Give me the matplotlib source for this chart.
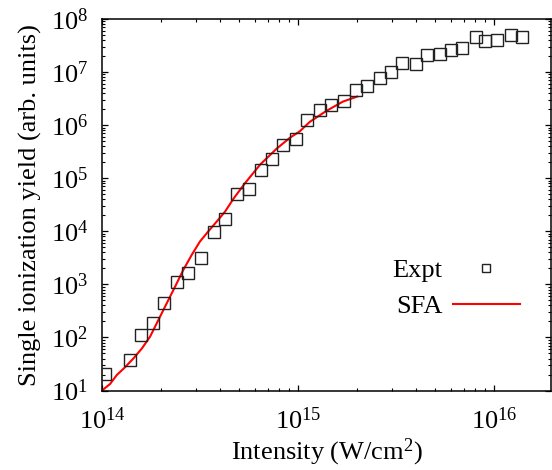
import matplotlib
matplotlib.use("Agg")
import matplotlib.pyplot as plt
from matplotlib.ticker import LogLocator, NullFormatter

plt.rcParams["font.family"] = ["Liberation Serif", "DejaVu Serif"]
plt.rcParams["mathtext.fontset"] = "custom"
plt.rcParams["mathtext.rm"] = "Liberation Serif"
plt.rcParams["mathtext.it"] = "Liberation Serif:italic"

# experimental single ionization yield
expt_intensity = [1.04e14, 1.39e14, 1.58e14, 1.81e14, 2.06e14, 2.40e14, 2.74e14,
                  3.18e14, 3.72e14, 4.25e14, 4.86e14, 5.62e14, 6.46e14, 7.35e14,
                  8.37e14, 9.77e14, 1.11e15, 1.30e15, 1.48e15, 1.72e15, 1.98e15,
                  2.25e15, 2.62e15, 2.99e15, 3.40e15, 3.99e15, 4.54e15, 5.28e15,
                  6.04e15, 6.87e15, 8.04e15, 8.97e15, 1.04e16, 1.22e16, 1.39e16]
expt_yield = [20.2, 37.6, 111, 190, 454, 1100, 1630, 3200, 9800, 1.7e4, 5.1e4,
              6.34e4, 1.43e5, 2.33e5, 4.23e5, 5.5e5, 1.27e6, 1.96e6, 2.38e6,
              2.84e6, 4.61e6, 5.4e6, 7.64e6, 1.02e7, 1.49e7, 1.43e7, 2.11e7,
              2.2e7, 2.62e7, 2.81e7, 4.54e7, 3.81e7, 3.98e7, 4.94e7, 4.54e7]

# SFA calculation
sfa_intensity = [1.00e14, 1.10e14, 1.19e14, 1.31e14, 1.45e14, 1.60e14, 1.76e14,
                 1.94e14, 2.14e14, 2.36e14, 2.60e14, 2.87e14, 3.16e14, 3.48e14,
                 3.85e14, 4.25e14, 4.68e14, 5.37e14, 6.40e14, 7.78e14, 9.10e14,
                 1.02e15, 1.15e15, 1.39e15, 1.69e15, 2.00e15]
sfa_yield = [10, 13.3, 19.6, 27.4, 40.6, 62.5, 104, 214, 442, 908, 1880, 3610,
             6430, 9910, 1.53e4, 2.37e4, 4.10e4, 8.11e4, 1.80e5, 3.61e5, 5.81e5,
             7.64e5, 1.16e6, 1.84e6, 2.77e6, 3.45e6]

fig = plt.figure(figsize=(5.52, 4.70), dpi=100)
ax = fig.add_axes([102 / 552, 1 - 390.5 / 470, 449 / 552, 371.5 / 470])

ax.plot(sfa_intensity, sfa_yield, color="#ff0000", lw=1.5, label="SFA", zorder=2)
ax.plot(expt_intensity, expt_yield, ls="none", marker="s", ms=8, mfc="none",
        mec="#222222", mew=1.0, label="Expt", zorder=3)

ax.set_xscale("log")
ax.set_yscale("log")
ax.set_xlim(1e14, 1.95e16)
ax.set_ylim(1e1, 1e8)

for axis in (ax.xaxis, ax.yaxis):
    axis.set_major_locator(LogLocator(base=10, numticks=30))
    axis.set_minor_locator(LogLocator(base=10, subs=range(2, 10), numticks=30))
    axis.set_minor_formatter(NullFormatter())

ax.tick_params(which="both", direction="in", top=True, right=True, labelsize=19)
ax.tick_params(which="major", length=4.5, width=0.9)
ax.tick_params(which="minor", length=2.2, width=0.8)
ax.tick_params(axis="x", pad=12)
ax.tick_params(axis="y", pad=10)
for sp in ax.spines.values():
    sp.set_linewidth(1.1)

ax.set_xlabel(r"Intensity (W/cm$^{2}$)", fontsize=19, labelpad=2)
ax.set_ylabel("Single ionization yield (arb. units)", fontsize=19, labelpad=6)

h, l = ax.get_legend_handles_labels()
leg = ax.legend(h[::-1], l[::-1], loc="upper right", bbox_to_anchor=(0.931, 0.354),
                frameon=False, fontsize=19, markerfirst=False, handlelength=2.55,
                handletextpad=0.4, labelspacing=0.45, borderpad=0,
                borderaxespad=0, markerscale=0.7)

fig.savefig("out.png", dpi=100)
